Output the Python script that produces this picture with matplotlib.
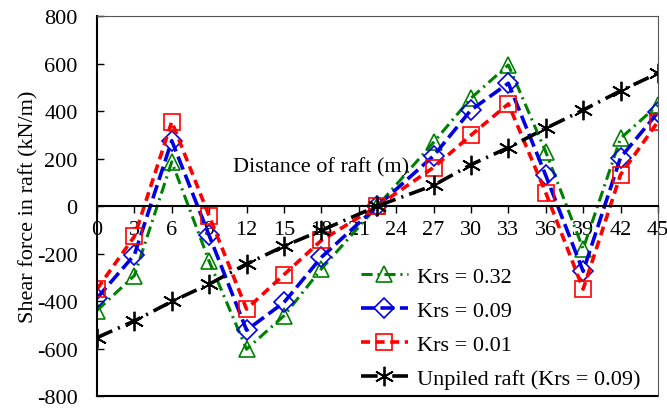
import matplotlib
matplotlib.use("Agg")
import matplotlib.pyplot as plt

# Shear force along the raft
plt.rcParams['font.family'] = ['Liberation Serif', 'DejaVu Serif']
plt.rcParams['axes.unicode_minus'] = False
plt.rcParams['lines.scale_dashes'] = False

distance = [0, 3, 6, 9, 12, 15, 18, 22.5, 27, 30, 33, 36, 39, 42, 45]
krs_032 = [-440, -293, 186, -233, -603, -462, -265, 0, 268, 454, 594, 228, -180, 285, 425]
krs_009 = [-388, -206, 275, -124, -523, -406, -216, 0, 211, 404, 517, 129, -275, 204, 394]
krs_001 = [-350, -128, 355, -42, -434, -289, -145, 0, 162, 298, 430, 56, -350, 132, 355]
unpiled = [-554, -484, -402, -329, -244, -169, -103, 0, 87, 174, 246, 327, 404, 485, 559]

x_ticks = [0, 3, 6, 9, 12, 15, 18, 21, 24, 27, 30, 33, 36, 39, 42, 45]
y_ticks = [-800, -600, -400, -200, 0, 200, 400, 600, 800]

fig = plt.figure(figsize=(6.67, 4.10), dpi=100)
ax = fig.add_axes([0.1454, 0.0317, 0.841, 0.9268])

ax.plot(distance, krs_032, color='#008000', lw=2.2, dashes=(8, 3.5, 1.5, 3.5),
        marker='^', ms=12, mfc='none', mec='#008000', mew=1.2,
        label='Krs = 0.32')
ax.plot(distance, krs_009, color='#0000e0', lw=2.6, dashes=(10, 4),
        marker='D', ms=10, mfc='none', mec='#0000e0', mew=1.2,
        label='Krs = 0.09')
ax.plot(distance, krs_001, color='#ff0000', lw=2.6, dashes=(6.5, 4),
        marker='s', ms=11.5, mfc='none', mec='#ff0000', mew=1.2,
        label='Krs = 0.01')
ax.plot(distance, unpiled, color='black', lw=2.6, dashes=(12, 4.5, 1.5, 4.5),
        marker=(6, 2, 0), ms=14, mec='black', mew=1.3,
        label='Unpiled raft (Krs = 0.09)')

ax.set_xlim(0, 45)
ax.set_ylim(-800, 800)
ax.set_xticks(x_ticks)
ax.set_yticks(y_ticks)
ax.tick_params(labelsize=16)

# x axis sits on the zero line, the frame stays round the plot
ax.spines['bottom'].set_position(('data', 0))
ax.spines['bottom'].set_linewidth(1.5)
ax.spines['left'].set_linewidth(1.5)
ax.spines['top'].set_color('#555555')
ax.spines['right'].set_color('#555555')
ax.plot([0, 1], [0, 0], transform=ax.transAxes, color='black', lw=1.5, clip_on=False)

ax.tick_params(axis='x', direction='out', length=5, width=1, pad=5)
ax.tick_params(axis='y', direction='in', length=5, width=1, pad=14)

ax.set_ylabel('Shear force in raft (kN/m)', fontsize=16, labelpad=-1)
ax.text(18, 165, 'Distance of raft (m)', fontsize=16, ha='center', va='center')

ax.legend(loc='upper left', bbox_to_anchor=(0.435, 0.394), frameon=False, fontsize=16,
          handlelength=2.1, handletextpad=0.4, labelspacing=0.6, borderpad=0.4)

fig.savefig('out.png', dpi=100)
